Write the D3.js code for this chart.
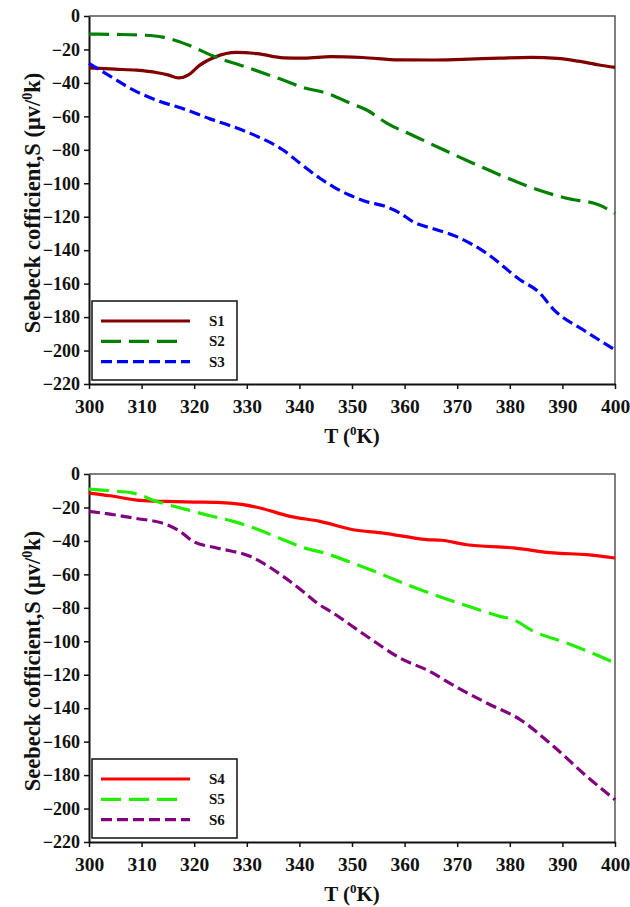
<!DOCTYPE html>
<html>
<head>
<meta charset="utf-8">
<script src="https://cdn.jsdelivr.net/npm/d3@7"></script>
<style>
  html, body { margin: 0; padding: 0; background: #fff; }
  svg { display: block; }
  text { font-family: "Liberation Serif", "Times New Roman", serif; font-weight: bold; fill: #111; }
</style>
</head>
<body>
<svg id="chart" width="630" height="907"></svg>
<script>
// Temperature axis ticks and Seebeck axis ticks
const tempTicks = [300, 310, 320, 330, 340, 350, 360, 370, 380, 390, 400];
const seebeckTicks = [0, -20, -40, -60, -80, -100, -120, -140, -160, -180, -200, -220];

// Seebeck coefficient S (μV/K) against T (K), one array per sample
const s1 = [[300,-31],[305,-31.8],[309,-32.4],[313,-33.9],[315,-35.2],[317,-37],[319,-35],[321,-29.5],[324,-24.5],[328,-21.8],[332,-22.5],[337,-25],[341,-25.2],[346,-24.3],[352,-24.8],[359,-26.2],[365,-26.3],[371,-25.9],[378,-25.2],[384,-24.7],[389,-25.3],[393,-27],[397,-29.3],[400,-30.7]];
const s2 = [[300,-10.8],[305,-11],[310,-11.4],[314,-12.6],[318.6,-17],[323.6,-23.9],[330.6,-31.3],[336.9,-38.3],[341,-43],[345,-46],[349.6,-52],[352.8,-56.2],[356.6,-64],[362,-72],[367.4,-80],[373,-88],[378.1,-95],[384.5,-103],[390.8,-109],[397,-113],[400,-118]];
const s3 = [[300,-28.3],[304,-36],[308.4,-44.2],[313,-50.5],[318.6,-56.2],[323,-61.5],[327.4,-66.2],[332,-72],[336.9,-80.1],[340.1,-88],[343.9,-97],[346.4,-102],[349.5,-107],[352.8,-111],[356,-113.5],[359.1,-117.8],[361.6,-123],[365.8,-127.5],[369.9,-131.9],[375.6,-141.9],[382,-157.8],[385.5,-165],[388.4,-175.7],[394,-187.7],[400,-199.6]];
const s4 = [[300,-11.4],[304,-13],[309.7,-15.8],[314.8,-16.4],[320,-16.8],[324.3,-17],[329,-18.2],[332.5,-20.3],[338.2,-25.3],[343.9,-28.3],[350.2,-33.3],[356,-35.3],[364.2,-39.2],[367,-39.6],[371.8,-42.3],[380.7,-44.2],[388.3,-47.2],[394.6,-48.2],[400,-50.2]];
const s5 = [[300,-9],[304,-10],[308.4,-11.4],[312.9,-16.4],[318.6,-21.3],[323,-25],[327.4,-28.3],[332,-33],[336.9,-39.3],[341,-44.2],[345,-47.5],[350.9,-54.2],[356.6,-61.2],[362,-68],[367.4,-74.1],[373,-80],[378.1,-85.1],[380.6,-87],[384.5,-94],[390.8,-101],[397.1,-109],[400,-113]];
const s6 = [[300,-22.3],[304,-24],[308.4,-26.3],[314.8,-30.3],[317.3,-34.3],[319.8,-40.3],[324.3,-44.2],[330.6,-49.2],[336.9,-61.2],[341,-71],[343.3,-77],[346.4,-83.1],[352.8,-97],[359.1,-110],[365.4,-119],[368,-124],[375.6,-136.9],[382,-146.9],[388.3,-162.8],[394.6,-180.7],[400,-194.7]];

const panels = [
  { top: 16, bottom: 384, series: [
    { name: "S1", data: s1, color: "#800000", dash: null },
    { name: "S2", data: s2, color: "#008000", dash: "20,8" },
    { name: "S3", data: s3, color: "#0000ff", dash: "11,5" }
  ]},
  { top: 474, bottom: 842, series: [
    { name: "S4", data: s4, color: "#ff0000", dash: null },
    { name: "S5", data: s5, color: "#22ee00", dash: "20,8" },
    { name: "S6", data: s6, color: "#800080", dash: "11,5" }
  ]}
];

const svg = d3.select("#chart");
const left = 89, right = 615;

panels.forEach(p => {
  const x = d3.scaleLinear().domain([300, 400]).range([left, right]);
  const y = d3.scaleLinear().domain([-220, 0]).range([p.bottom, p.top]);
  const g = svg.append("g");

  // frame: top and right edges
  g.append("path")
    .attr("d", `M${left},${p.top}H${right}V${p.bottom}`)
    .attr("fill", "none").attr("stroke", "#555").attr("stroke-width", 1.5);

  // y axis
  const ya = g.append("g").attr("transform", `translate(${left},0)`)
    .call(d3.axisLeft(y).tickValues(seebeckTicks).tickSize(5).tickSizeOuter(0).tickPadding(4));
  ya.select(".domain").attr("stroke", "#111").attr("stroke-width", 2);
  ya.selectAll(".tick line").attr("stroke", "#111").attr("stroke-width", 1.5);
  ya.selectAll(".tick text").style("font-size", "18px").attr("fill", "#111");

  // x axis
  const xa = g.append("g").attr("transform", `translate(0,${p.bottom})`)
    .call(d3.axisBottom(x).tickValues(tempTicks).tickSize(5).tickSizeOuter(0).tickPadding(10));
  xa.select(".domain").attr("stroke", "#111").attr("stroke-width", 2);
  xa.selectAll(".tick line").attr("stroke", "#111").attr("stroke-width", 1.5);
  xa.selectAll(".tick text").style("font-size", "19.5px").attr("fill", "#111");

  // curves
  const line = d3.line().x(d => x(d[0])).y(d => y(d[1])).curve(d3.curveMonotoneX);
  p.series.forEach(s => {
    g.append("path").datum(s.data)
      .attr("d", line)
      .attr("fill", "none")
      .attr("stroke", s.color)
      .attr("stroke-width", 3.2)
      .attr("stroke-dasharray", s.dash);
  });

  // axis titles
  const yt = g.append("text")
    .attr("transform", `translate(40,${(p.top + p.bottom) / 2 + 3}) rotate(-90)`)
    .attr("text-anchor", "middle")
    .style("font-size", "22.5px");
  yt.append("tspan").text("Seebeck cofficient,S (μv/");
  yt.append("tspan").text("0").style("font-size", "14px").attr("dy", -8);
  yt.append("tspan").text("k)").attr("dy", 8);

  const xt = g.append("text")
    .attr("x", (left + right) / 2).attr("y", p.bottom + 59)
    .attr("text-anchor", "middle")
    .style("font-size", "21px");
  xt.append("tspan").text("T (");
  xt.append("tspan").text("0").style("font-size", "13px").attr("dy", -8);
  xt.append("tspan").text("K)").attr("dy", 8);

  // legend
  const lx = 92, ly = p.bottom - 83;
  const lg = g.append("g").attr("transform", `translate(${lx},${ly})`);
  lg.append("rect").attr("width", 145).attr("height", 79)
    .attr("fill", "#fff").attr("stroke", "#111").attr("stroke-width", 1.5);
  p.series.forEach((s, i) => {
    const yy = 20 + i * 20.3;
    lg.append("line").attr("x1", 9).attr("x2", s.dash === "20,8" ? 88 : 98)
      .attr("y1", yy).attr("y2", yy)
      .attr("stroke", s.color).attr("stroke-width", 3.2)
      .attr("stroke-dasharray", s.dash);
    lg.append("text").attr("x", 117).attr("y", yy + 5)
      .style("font-size", "15px").text(s.name);
  });
});
</script>
</body>
</html>
